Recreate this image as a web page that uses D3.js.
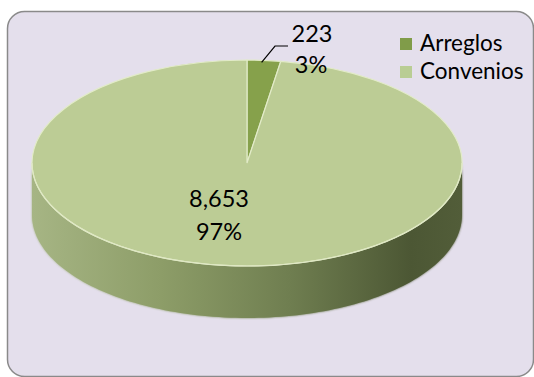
<!DOCTYPE html>
<html>
<head>
<meta charset="utf-8">
<script src="https://cdn.jsdelivr.net/npm/d3@7"></script>
<style>
  html, body { margin: 0; padding: 0; background: #ffffff; }
  svg { display: block; }
  text { font-family: Lato, "Open Sans", sans-serif; fill: #000; }
</style>
</head>
<body>
<svg id="chart" width="534" height="377"></svg>
<script>
// ---- data ----
const categories = ["Arreglos", "Convenios"];
const values = [223, 8653];
const topColors = ["#86a14b", "#bccc95"];
const legendColors = ["#809c49", "#b9cd94"];

// ---- layout ----
const W = 534, H = 377;
const cx = 247, cy = 163, rx = 215, ry = 103, depth = 52;
const k = ry / rx;

const svg = d3.select("#chart");
const defs = svg.append("defs");

// background panel
svg.append("rect")
  .attr("x", 7.5).attr("y", 11.5).attr("width", 526).attr("height", 365)
  .attr("rx", 17).attr("ry", 17)
  .attr("fill", "#e4dfec").attr("stroke", "#8a8a8a").attr("stroke-width", 1.5);

// side gradient
const grad = defs.append("linearGradient").attr("id", "sideGrad")
  .attr("gradientUnits", "userSpaceOnUse")
  .attr("x1", cx - rx).attr("x2", cx + rx).attr("y1", 0).attr("y2", 0);
[[0, "#a6b584"], [0.3, "#8d9d68"], [0.6, "#6f7e50"], [0.88, "#4c5734"], [1, "#525d39"]]
  .forEach(([o, c]) => grad.append("stop").attr("offset", o).attr("stop-color", c));

const shadow = defs.append("filter").attr("id", "blur").attr("x", "-10%").attr("y", "-10%").attr("width", "120%").attr("height", "130%");
shadow.append("feGaussianBlur").attr("stdDeviation", 1.2);

const pie = d3.pie().sort(null).value(d => d);
const arcs = pie(values);

// point on the ellipse for a d3 angle (0 = 12 o'clock, clockwise)
const pt = (a, dy) => [cx + rx * Math.sin(a), cy - ry * Math.cos(a) + (dy || 0)];
const line = d3.line();

// sides (front half only: angles between PI/2 and 3PI/2)
const sideG = svg.append("g");
arcs.forEach((d, i) => {
  const a0 = Math.max(d.startAngle, Math.PI / 2);
  const a1 = Math.min(d.endAngle, 3 * Math.PI / 2);
  if (a1 <= a0) return;
  const n = 120;
  const angles = d3.range(n + 1).map(j => a0 + (a1 - a0) * j / n);
  const top = angles.map(a => pt(a, 0));
  const bottom = angles.slice().reverse().map(a => pt(a, depth));
  sideG.append("path")
    .attr("d", line(top.concat(bottom)) + "Z")
    .attr("fill", "url(#sideGrad)")
    .attr("filter", "url(#blur)");
  sideG.append("path")
    .attr("d", line(top.concat(bottom)) + "Z")
    .attr("fill", "url(#sideGrad)");
});

// top faces
const arcGen = d3.arc().innerRadius(0).outerRadius(rx);
const topG = svg.append("g").attr("transform", `translate(${cx},${cy}) scale(1,${k})`);
topG.selectAll("path.slice").data(arcs).join("path")
  .attr("class", "slice")
  .attr("d", arcGen)
  .attr("fill", (d, i) => topColors[i])
  .attr("stroke", "#e2ebc8").attr("stroke-width", 1.2)
  .attr("vector-effect", "non-scaling-stroke");

// highlight rim on front edge
{
  const n = 120;
  const angles = d3.range(n + 1).map(j => Math.PI / 2 + Math.PI * j / n);
  svg.append("path")
    .attr("d", line(angles.map(a => pt(a, 0))))
    .attr("fill", "none").attr("stroke", "#dfe8c4").attr("stroke-width", 1.2);
}

// labels
const fmtNum = d3.format(",");
const fmtPct = d3.format(".0%");
const total = d3.sum(values);

// Convenios label (inside)
svg.append("text").attr("x", 219).attr("y", 207).attr("text-anchor", "middle")
  .attr("font-size", 23.5).text(fmtNum(values[1]));
svg.append("text").attr("x", 219).attr("y", 240).attr("text-anchor", "middle")
  .attr("font-size", 23.5).text(fmtPct(values[1] / total));

// Arreglos label (outside with leader)
const midA = (arcs[0].startAngle + arcs[0].endAngle) / 2;
const anchorPt = [cx + rx * 0.98 * Math.sin(midA) - 2, cy - ry * 0.98 * Math.cos(midA)];
svg.append("path")
  .attr("d", line([anchorPt, [275, 46], [288, 46]]))
  .attr("fill", "none").attr("stroke", "#000").attr("stroke-width", 1.2);
svg.append("text").attr("x", 312).attr("y", 42).attr("text-anchor", "middle")
  .attr("font-size", 23.5).text(fmtNum(values[0]));
svg.append("text").attr("x", 311).attr("y", 73).attr("text-anchor", "middle")
  .attr("font-size", 23.5).text(fmtPct(values[0] / total));

// legend
const leg = svg.append("g");
categories.forEach((c, i) => {
  const y = 38 + i * 28;
  leg.append("rect").attr("x", 400).attr("y", y).attr("width", 12).attr("height", 12)
    .attr("fill", legendColors[i]);
  leg.append("text").attr("x", 420).attr("y", y + 13).attr("font-size", 22.5).text(c);
});
</script>
</body>
</html>
